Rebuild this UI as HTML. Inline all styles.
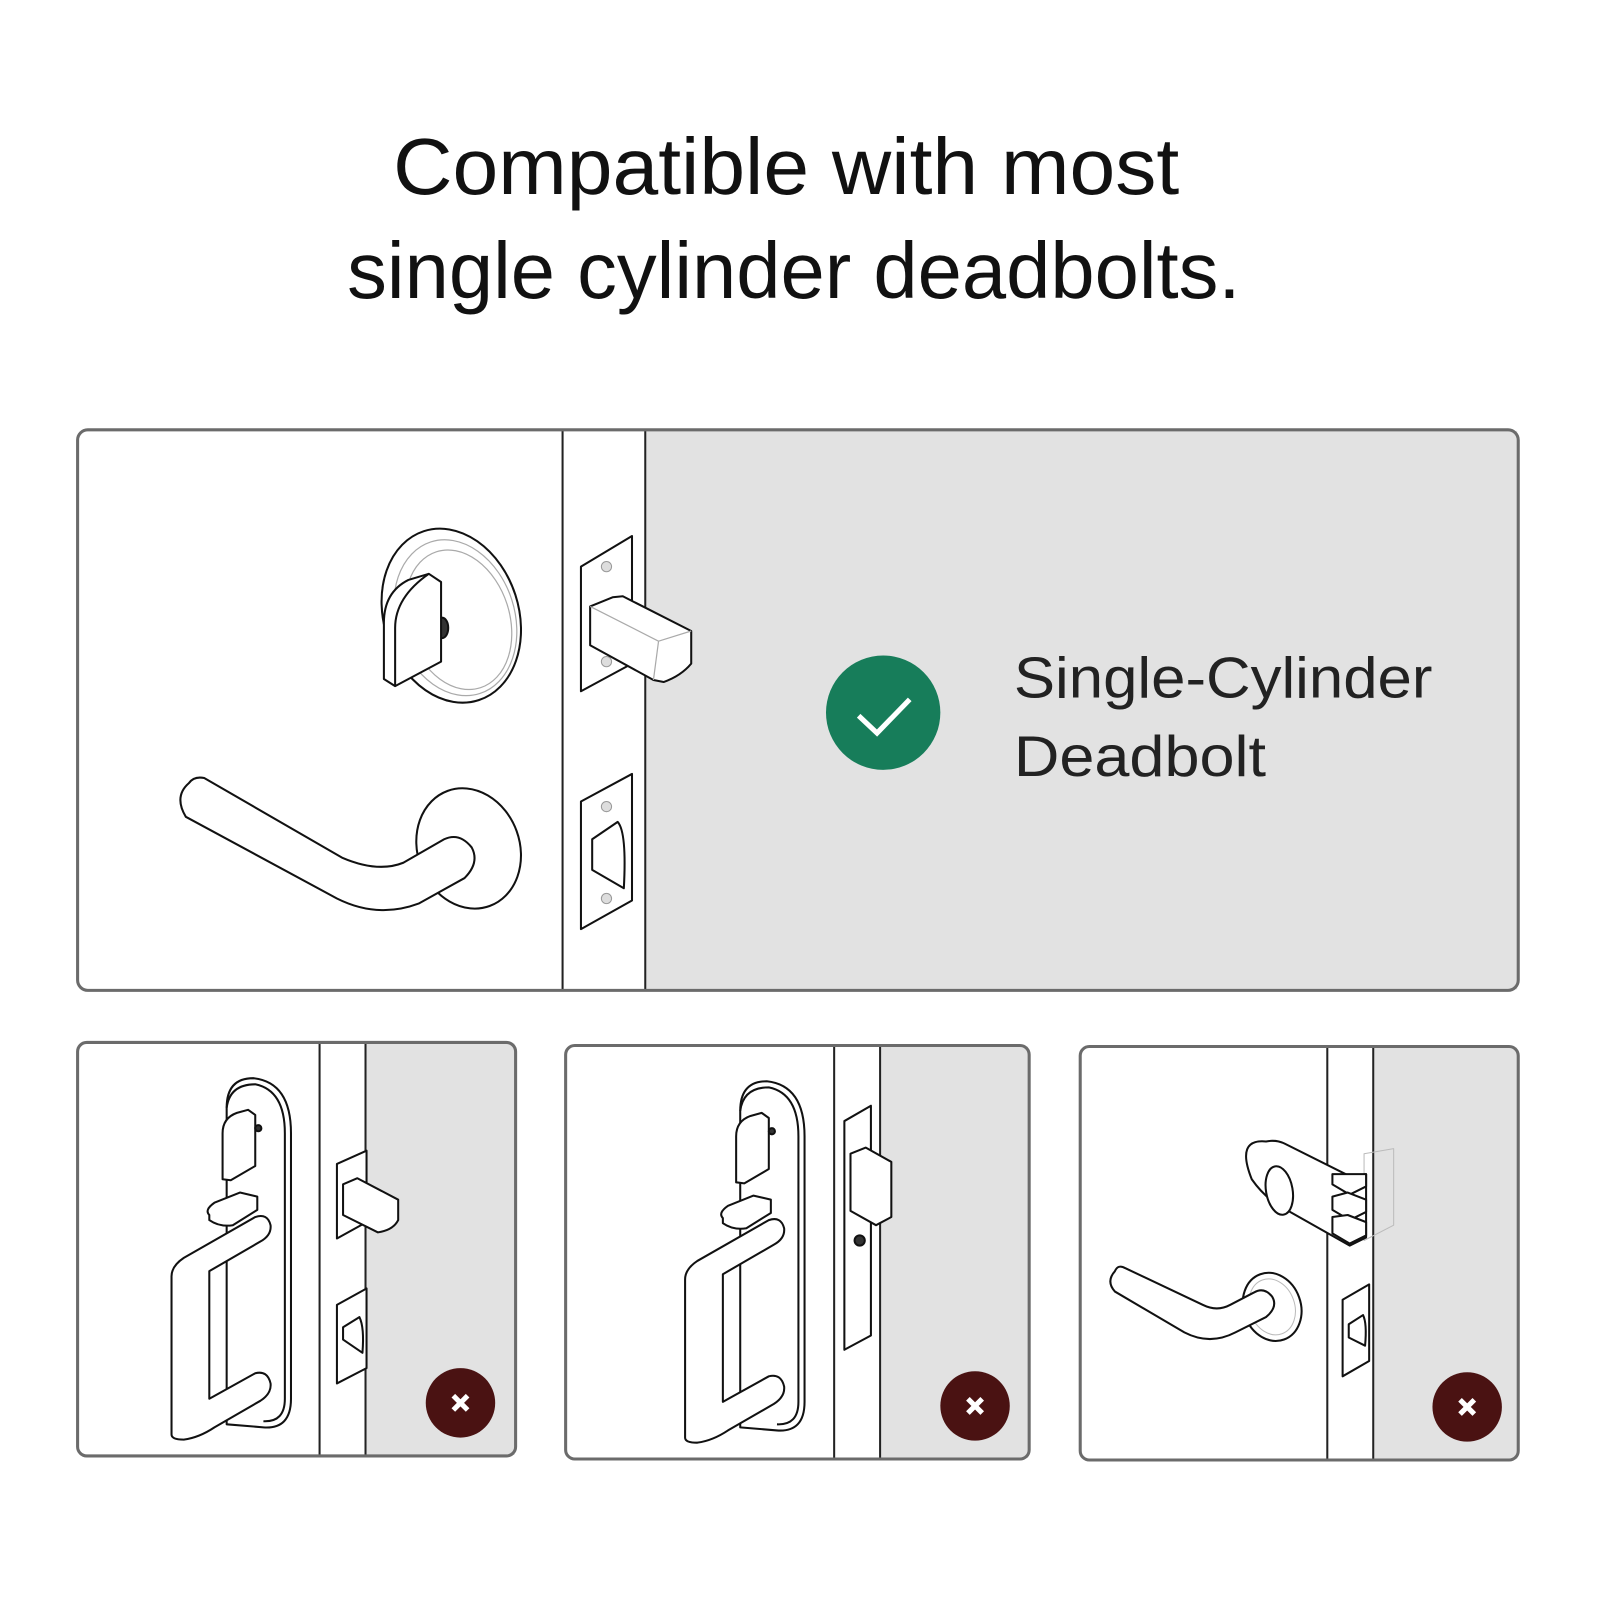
<!DOCTYPE html>
<html><head><meta charset="utf-8"><style>
html,body{margin:0;padding:0;background:#fff;}
svg{display:block;}
text{font-family:"Liberation Sans",sans-serif;}
</style></head><body>
<svg width="1600" height="1600" viewBox="0 0 1600 1600" xmlns="http://www.w3.org/2000/svg">
<rect width="1600" height="1600" fill="#fff"/>
<g transform="scale(1.021)">
<text x="385" y="190" font-size="78" fill="#111" textLength="770" lengthAdjust="spacingAndGlyphs">Compatible with most</text>
<text x="340" y="292" font-size="78" fill="#111" textLength="875" lengthAdjust="spacingAndGlyphs">single cylinder deadbolts.</text>

<rect x="633" y="422" width="853" height="547" fill="#e2e2e2"/>
<line x1="551" y1="422" x2="551" y2="969" stroke="#222" stroke-width="2"/>
<line x1="632" y1="422" x2="632" y2="969" stroke="#222" stroke-width="2"/>
<rect x="76" y="421" width="1411" height="549" rx="10" fill="none" stroke="#6b6b6b" stroke-width="3"/>
<g fill="#fff" stroke="#111" stroke-width="2" stroke-linejoin="round">
 <ellipse cx="442" cy="603" rx="66" ry="87" transform="rotate(-18 442 603)"/>
 <ellipse cx="446" cy="605" rx="58" ry="78" transform="rotate(-18 446 605)" stroke="#aaa" stroke-width="1.2"/>
 <ellipse cx="449" cy="607" rx="50" ry="70" transform="rotate(-18 449 607)" stroke="#aaa" stroke-width="1.2"/>
 <ellipse cx="433" cy="615" rx="6" ry="10" fill="#333"/>
 <path d="M376 665 L376 610 Q376 580 400 568 L420 562 L432 570 L432 648 L387 672 Z"/>
 <path d="M387 672 L387 615 Q387 585 420 562" fill="none"/>
 <ellipse cx="459" cy="831" rx="50" ry="60" transform="rotate(-20 459 831)"/>
 <path d="M185 767 Q170 780 182 800 L330 880 Q370 900 410 885 L455 860 Q470 845 462 830 Q450 815 435 822 L395 845 Q370 855 335 840 L200 762 Q190 760 185 767 Z"/>
 <path d="M569 555 L619 525 L619 650 L569 677 Z"/>
 <circle cx="594" cy="555" r="5" fill="#ddd" stroke="#999" stroke-width="1"/>
 <circle cx="594" cy="648" r="5" fill="#ddd" stroke="#999" stroke-width="1"/>
 <path d="M578 594 L600 585 L610 584 L677 618 L677 650 Q667 662 650 668 L640 666 L578 632 Z"/>
 <path d="M578 594 L645 628 L677 618 M645 628 L640 666" fill="none" stroke="#aaa" stroke-width="1.2"/>
 <path d="M569 785 L619 758 L619 882 L569 910 Z"/>
 <circle cx="594" cy="790" r="5" fill="#ddd" stroke="#999" stroke-width="1"/>
 <circle cx="594" cy="880" r="5" fill="#ddd" stroke="#999" stroke-width="1"/>
 <path d="M580 822 L605 805 Q614 815 611 870 L580 852 Z"/>
</g>
<circle cx="865" cy="698" r="56" fill="#177d5a"/>
<path d="M841 701 L859 718 L891 685" fill="none" stroke="#fff" stroke-width="5"/>
<text x="993" y="683" font-size="56" fill="#222" textLength="410" lengthAdjust="spacingAndGlyphs">Single-Cylinder</text>
<text x="993" y="760" font-size="56" fill="#222" textLength="247" lengthAdjust="spacingAndGlyphs">Deadbolt</text>

<defs>
<g id="handleset" fill="#fff" stroke="#111" stroke-width="2" stroke-linejoin="round">
 <path d="M222 1085 Q222 1056 248 1056 Q285 1060 285 1110 L285 1370 Q285 1400 258 1398 L222 1395 Z"/>
 <path d="M222 1085 Q225 1062 250 1062 Q279 1068 279 1110 L279 1370 Q279 1393 258 1392" fill="none"/>
 <path d="M218 1155 L218 1110 Q218 1095 232 1090 L243 1087 L250 1092 L250 1142 L226 1156 Z"/>
 <circle cx="253" cy="1105" r="3" fill="#333"/>
 <path d="M205 1190 Q200 1185 210 1178 L235 1168 L252 1172 L252 1185 L228 1200 Q215 1202 205 1195 Z"/>
 <path d="M168 1405 L168 1250 Q168 1240 180 1232 L250 1192 Q262 1188 265 1200 Q266 1210 255 1216 L205 1245 L205 1370 L250 1345 Q262 1342 265 1355 Q266 1365 255 1372 L210 1398 Q195 1408 180 1410 Q168 1410 168 1405 Z"/>
</g>
</defs>

<rect x="359" y="1022" width="145" height="403" fill="#e2e2e2"/>
<line x1="313" y1="1022" x2="313" y2="1425" stroke="#222" stroke-width="2"/>
<line x1="358" y1="1022" x2="358" y2="1425" stroke="#222" stroke-width="2"/>
<rect x="76" y="1021" width="429" height="405" rx="9" fill="none" stroke="#6b6b6b" stroke-width="3"/>
<use href="#handleset"/>
<g fill="#fff" stroke="#111" stroke-width="2" stroke-linejoin="round">
 <path d="M330 1140 L359 1127 L359 1197 L330 1213 Z"/>
 <path d="M336 1160 L350 1154 L390 1175 L390 1195 Q385 1205 370 1207 L336 1190 Z"/>
 <path d="M330 1278 L359 1262 L359 1340 L330 1355 Z"/>
 <path d="M336 1300 L352 1290 Q357 1300 355 1325 L336 1312 Z"/>
</g>
<circle cx="451" cy="1374" r="34" fill="#4a1212"/>
<path d="M444 1367 L458 1381 M458 1367 L444 1381" stroke="#fff" stroke-width="5"/>

<rect x="863" y="1025" width="144" height="403" fill="#e2e2e2"/>
<line x1="817" y1="1025" x2="817" y2="1428" stroke="#222" stroke-width="2"/>
<line x1="862" y1="1025" x2="862" y2="1428" stroke="#222" stroke-width="2"/>
<rect x="554" y="1024" width="454" height="405" rx="9" fill="none" stroke="#6b6b6b" stroke-width="3"/>
<use href="#handleset" transform="translate(503 3)"/>
<g fill="#fff" stroke="#111" stroke-width="2" stroke-linejoin="round">
 <path d="M827 1098 L853 1083 L853 1308 L827 1322 Z"/>
 <path d="M833 1130 L848 1124 L873 1138 L873 1192 L858 1200 L833 1186 Z"/>
 <circle cx="842" cy="1215" r="5" fill="#333"/>
</g>
<circle cx="955" cy="1377" r="34" fill="#4a1212"/>
<path d="M948 1370 L962 1384 M962 1370 L948 1384" stroke="#fff" stroke-width="5"/>

<rect x="1346" y="1026" width="140" height="403" fill="#e2e2e2"/>
<line x1="1300" y1="1026" x2="1300" y2="1429" stroke="#222" stroke-width="2"/>
<line x1="1345" y1="1026" x2="1345" y2="1429" stroke="#222" stroke-width="2"/>
<rect x="1058" y="1025" width="429" height="405" rx="9" fill="none" stroke="#6b6b6b" stroke-width="3"/>
<g fill="#fff" stroke="#111" stroke-width="2" stroke-linejoin="round">
 <path d="M1336 1130 L1365 1125 L1365 1200 L1336 1215 Z" fill="none" stroke="#bbb" stroke-width="1"/>
 <path d="M1240 1118 Q1210 1115 1226 1155 Q1240 1175 1260 1185 L1322 1220 L1338 1212 L1338 1150 L1322 1152 L1258 1120 Q1250 1116 1240 1118 Z"/>
 <path d="M1305 1150 L1338 1150 L1338 1162 L1322 1170 L1305 1160 Z"/>
 <path d="M1305 1172 L1320 1168 L1338 1175 L1338 1187 L1322 1195 L1305 1185 Z"/>
 <path d="M1305 1192 L1320 1190 L1338 1197 L1338 1210 L1322 1218 L1305 1208 Z"/>
 <ellipse cx="1253" cy="1166" rx="13" ry="24" transform="rotate(-10 1253 1166)"/>
 <ellipse cx="1246" cy="1280" rx="28" ry="34" transform="rotate(-20 1246 1280)"/>
 <ellipse cx="1246" cy="1280" rx="22" ry="28" transform="rotate(-20 1246 1280)" fill="none" stroke="#bbb" stroke-width="1"/>
 <path d="M1092 1245 Q1083 1255 1092 1265 L1160 1305 Q1185 1318 1210 1305 L1240 1290 Q1252 1280 1246 1270 Q1238 1260 1228 1266 L1205 1278 Q1192 1285 1178 1278 L1102 1242 Q1095 1238 1092 1245 Z"/>
 <path d="M1315 1273 L1341 1258 L1341 1333 L1315 1348 Z"/>
 <path d="M1321 1297 L1335 1288 Q1339 1296 1337 1318 L1321 1310 Z"/>
</g>
<circle cx="1437" cy="1378" r="34" fill="#4a1212"/>
<path d="M1430 1371 L1444 1385 M1444 1371 L1430 1385" stroke="#fff" stroke-width="5"/>
</g>
</svg>
</body></html>
